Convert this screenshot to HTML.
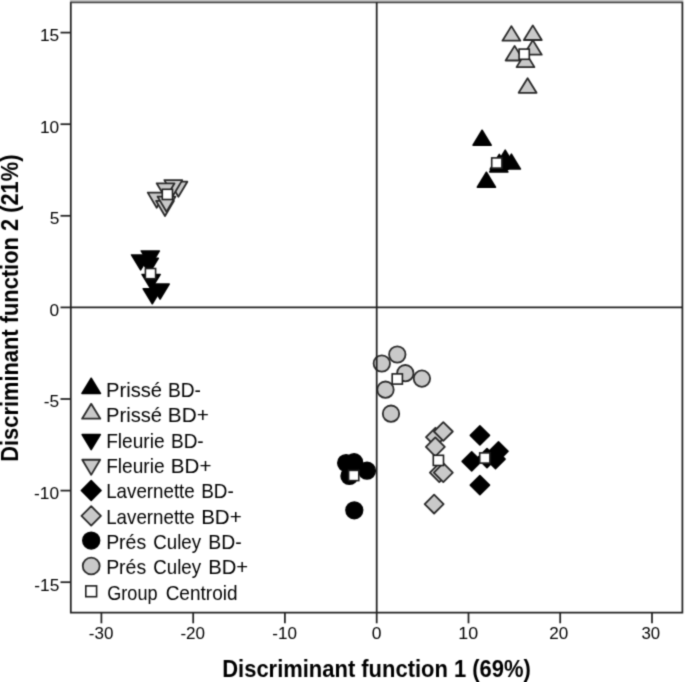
<!DOCTYPE html>
<html><head><meta charset="utf-8"><title>Discriminant functions</title>
<style>
html,body{margin:0;padding:0;background:#fff;}
svg{display:block}
text{font-family:"Liberation Sans",Arial,sans-serif;fill:#000}
.tk{font-size:16.8px}
.lg{font-size:21px}
.ti{font-size:23.6px;font-weight:bold}
.g{fill:#c9c9c9;stroke:#2a2a2a;stroke-width:1.8;stroke-linejoin:round}
.k{fill:#000;stroke:#000;stroke-width:1.5;stroke-linejoin:round}
.c{fill:#fff;stroke:#1e1e1e;stroke-width:1.6}
.ln{stroke:#222;stroke-width:1.75;fill:none}
</style></head><body>
<svg width="685" height="682" viewBox="0 0 685 682">
<defs><filter id="soft" x="0" y="0" width="100%" height="100%" filterUnits="userSpaceOnUse" color-interpolation-filters="sRGB"><feConvolveMatrix order="3" kernelMatrix="1 4 1 4 16 4 1 4 1" edgeMode="duplicate" preserveAlpha="false"/></filter></defs>
<g filter="url(#soft)">
<rect width="685" height="682" fill="#fff"/>

<path class="g" d="M523.85 54.70L541.75 54.70L532.80 40.10Z"/>
<path class="g" d="M505.65 60.50L523.55 60.50L514.60 45.90Z"/>
<path class="g" d="M516.55 67.10L534.45 67.10L525.50 52.50Z"/>
<path class="g" d="M502.45 40.70L520.35 40.70L511.40 26.10Z"/>
<path class="g" d="M523.85 40.00L541.75 40.00L532.80 25.40Z"/>
<path class="g" d="M518.65 92.80L536.55 92.80L527.60 78.20Z"/>
<rect class="c" x="519.1" y="49.1" width="10.2" height="10.2"/>
<path class="k" d="M473.00 145.15L491.20 145.15L482.10 130.25Z"/>
<path class="k" d="M477.30 187.15L495.50 187.15L486.40 172.25Z"/>
<path class="k" d="M496.10 165.05L514.30 165.05L505.20 150.15Z"/>
<path class="k" d="M502.30 169.05L520.50 169.05L511.40 154.15Z"/>
<path class="k" d="M490.20 169.25L508.40 169.25L499.30 154.35Z"/>
<path class="k" d="M489.70 171.95L507.90 171.95L498.80 157.05Z"/>
<rect class="c" x="491.7" y="157.9" width="10.2" height="10.2"/>
<path class="g" d="M169.45 181.70L187.35 181.70L178.40 196.80Z"/>
<path class="g" d="M164.35 180.10L182.25 180.10L173.30 195.20Z"/>
<path class="g" d="M156.65 183.30L174.55 183.30L165.60 198.40Z"/>
<path class="g" d="M147.75 192.60L165.65 192.60L156.70 207.70Z"/>
<path class="g" d="M156.05 200.90L173.95 200.90L165.00 216.00Z"/>
<path class="g" d="M157.55 196.60L175.45 196.60L166.50 211.70Z"/>
<rect class="c" x="162.3" y="189.3" width="10.2" height="10.2"/>
<path class="k" d="M131.50 254.95L149.70 254.95L140.60 269.95Z"/>
<path class="k" d="M141.20 250.95L159.40 250.95L150.30 265.95Z"/>
<path class="k" d="M140.10 258.25L158.30 258.25L149.20 273.25Z"/>
<path class="k" d="M142.00 274.45L160.20 274.45L151.10 289.45Z"/>
<path class="k" d="M151.00 284.05L169.20 284.05L160.10 299.05Z"/>
<path class="k" d="M143.20 288.75L161.40 288.75L152.30 303.75Z"/>
<rect class="c" x="145.4" y="268.5" width="10.2" height="10.2"/>
<path class="g" d="M426.0 437.2L435.4 427.8L444.9 437.2L435.4 446.6Z"/>
<path class="g" d="M433.9 431.5L443.3 422.1L452.8 431.5L443.3 440.9Z"/>
<path class="g" d="M425.9 446.9L435.3 437.4L444.8 446.9L435.3 456.3Z"/>
<path class="g" d="M429.9 472.7L439.3 463.2L448.8 472.7L439.3 482.1Z"/>
<path class="g" d="M433.9 472.7L443.3 463.2L452.8 472.7L443.3 482.1Z"/>
<path class="g" d="M424.7 504.1L434.1 494.6L443.6 504.1L434.1 513.5Z"/>
<rect class="c" x="433.3" y="455.3" width="10.2" height="10.2"/>
<path class="k" d="M470.3 435.4L479.9 425.8L489.5 435.4L479.9 445.0Z"/>
<path class="k" d="M462.1 461.4L471.7 451.8L481.3 461.4L471.7 471.0Z"/>
<path class="k" d="M470.3 485.1L479.9 475.5L489.5 485.1L479.9 494.7Z"/>
<path class="k" d="M488.9 451.3L498.5 441.7L508.1 451.3L498.5 460.9Z"/>
<path class="k" d="M485.9 459.1L495.5 449.5L505.1 459.1L495.5 468.7Z"/>
<path class="k" d="M477.4 458.1L487.0 448.5L496.6 458.1L487.0 467.7Z"/>
<rect class="c" x="479.7" y="452.9" width="10.2" height="10.2"/>
<circle class="g" cx="397.3" cy="354.5" r="8.2"/>
<circle class="g" cx="381.8" cy="363.5" r="8.2"/>
<circle class="g" cx="405.3" cy="373.2" r="8.2"/>
<circle class="g" cx="421.9" cy="378.6" r="8.2"/>
<circle class="g" cx="385.5" cy="389.7" r="8.2"/>
<circle class="g" cx="391.0" cy="413.7" r="8.2"/>
<rect class="c" x="392.2" y="373.9" width="10.2" height="10.2"/>
<circle class="k" cx="346.1" cy="463.0" r="8.35"/>
<circle class="k" cx="354.1" cy="462.1" r="8.35"/>
<circle class="k" cx="367.0" cy="470.7" r="8.35"/>
<circle class="k" cx="349.4" cy="476.0" r="8.35"/>
<circle class="k" cx="354.3" cy="510.3" r="8.35"/>
<rect class="c" x="348.6" y="470.4" width="10.2" height="10.2"/>
<path class="ln" d="M70.8 1.4500000000000002V612.5H682.4V1.4500000000000002"/>
<path class="ln" style="stroke:#c6c6c6;stroke-width:1.6" d="M69.89999999999999 0.8H683.3"/>
<path class="ln" style="stroke:#444" d="M70.8 2.35H682.4"/>
<path class="ln" d="M376.7 2.35V612.5M70.8 307.45H682.4"/>
<path class="ln" d="M101.4 612.5V623.3"/>
<text class="tk" x="88.82" y="639.2" textLength="24.58" lengthAdjust="spacingAndGlyphs">-30</text>
<path class="ln" d="M193.2 612.5V623.3"/>
<text class="tk" x="180.42" y="639.2" textLength="24.69" lengthAdjust="spacingAndGlyphs">-20</text>
<path class="ln" d="M284.9 612.5V623.3"/>
<text class="tk" x="272.32" y="639.2" textLength="24.69" lengthAdjust="spacingAndGlyphs">-10</text>
<path class="ln" d="M376.7 612.5V623.3"/>
<text class="tk" x="371.70" y="639.2" textLength="9.73" lengthAdjust="spacingAndGlyphs">0</text>
<path class="ln" d="M468.5 612.5V623.3"/>
<text class="tk" x="458.37" y="639.2" textLength="19.89" lengthAdjust="spacingAndGlyphs">10</text>
<path class="ln" d="M560.2 612.5V623.3"/>
<text class="tk" x="549.25" y="639.2" textLength="18.98" lengthAdjust="spacingAndGlyphs">20</text>
<path class="ln" d="M652.0 612.5V623.3"/>
<text class="tk" x="641.43" y="639.2" textLength="18.68" lengthAdjust="spacingAndGlyphs">30</text>
<path class="ln" d="M60.5 32.6H70.8"/>
<text class="tk" x="39.98" y="40.9" textLength="19.25" lengthAdjust="spacingAndGlyphs">15</text>
<path class="ln" d="M60.5 124.2H70.8"/>
<text class="tk" x="39.98" y="132.6" textLength="19.25" lengthAdjust="spacingAndGlyphs">10</text>
<path class="ln" d="M60.5 215.8H70.8"/>
<text class="tk" x="49.67" y="224.2" textLength="9.63" lengthAdjust="spacingAndGlyphs">5</text>
<path class="ln" d="M60.5 307.4H70.8"/>
<text class="tk" x="49.50" y="315.8" textLength="9.63" lengthAdjust="spacingAndGlyphs">0</text>
<path class="ln" d="M60.5 399.0H70.8"/>
<text class="tk" x="43.79" y="407.3" textLength="15.39" lengthAdjust="spacingAndGlyphs">-5</text>
<path class="ln" d="M60.5 490.6H70.8"/>
<text class="tk" x="34.10" y="498.9" textLength="25.01" lengthAdjust="spacingAndGlyphs">-10</text>
<path class="ln" d="M60.5 582.2H70.8"/>
<text class="tk" x="34.27" y="590.5" textLength="25.01" lengthAdjust="spacingAndGlyphs">-15</text>
<path class="k" d="M81.92 393.45L100.48 393.45L91.20 378.25Z"/>
<text class="lg" x="106.09" y="396.8" textLength="55.99" lengthAdjust="spacingAndGlyphs">Prissé</text>
<text class="lg" x="167.97" y="396.8" textLength="32.94" lengthAdjust="spacingAndGlyphs">BD-</text>
<path class="g" d="M82.07 418.72L100.33 418.72L91.20 403.83Z"/>
<text class="lg" x="106.09" y="422.2" textLength="55.99" lengthAdjust="spacingAndGlyphs">Prissé</text>
<text class="lg" x="167.84" y="422.2" textLength="40.97" lengthAdjust="spacingAndGlyphs">BD+</text>
<path class="k" d="M82.10 434.59L100.30 434.59L91.20 449.59Z"/>
<text class="lg" x="106.17" y="447.5" textLength="58.42" lengthAdjust="spacingAndGlyphs">Fleurie</text>
<text class="lg" x="170.98" y="447.5" textLength="32.72" lengthAdjust="spacingAndGlyphs">BD-</text>
<path class="g" d="M82.25 459.76L100.15 459.76L91.20 474.86Z"/>
<text class="lg" x="106.17" y="472.9" textLength="58.42" lengthAdjust="spacingAndGlyphs">Fleurie</text>
<text class="lg" x="170.86" y="472.9" textLength="40.54" lengthAdjust="spacingAndGlyphs">BD+</text>
<path class="k" d="M81.3 490.5L91.2 480.6L101.1 490.5L91.2 500.4Z"/>
<text class="lg" x="106.20" y="498.3" textLength="88.55" lengthAdjust="spacingAndGlyphs">Lavernette</text>
<text class="lg" x="201.29" y="498.3" textLength="32.51" lengthAdjust="spacingAndGlyphs">BD-</text>
<path class="g" d="M81.5 515.9L91.2 506.2L100.9 515.9L91.2 525.6Z"/>
<text class="lg" x="106.20" y="523.6" textLength="88.55" lengthAdjust="spacingAndGlyphs">Lavernette</text>
<text class="lg" x="201.16" y="523.6" textLength="40.54" lengthAdjust="spacingAndGlyphs">BD+</text>
<circle class="k" cx="91.2" cy="540.6" r="8.45"/>
<text class="lg" x="106.14" y="549.0" textLength="40.07" lengthAdjust="spacingAndGlyphs">Prés</text>
<text class="lg" x="153.27" y="549.0" textLength="47.76" lengthAdjust="spacingAndGlyphs">Culey</text>
<text class="lg" x="208.25" y="549.0" textLength="33.37" lengthAdjust="spacingAndGlyphs">BD-</text>
<circle class="g" cx="91.2" cy="566.0" r="8.45"/>
<text class="lg" x="106.14" y="574.4" textLength="40.07" lengthAdjust="spacingAndGlyphs">Prés</text>
<text class="lg" x="153.27" y="574.4" textLength="47.76" lengthAdjust="spacingAndGlyphs">Culey</text>
<text class="lg" x="208.18" y="574.4" textLength="40.00" lengthAdjust="spacingAndGlyphs">BD+</text>
<rect class="c" x="85.8" y="585.9" width="10.8" height="10.8"/>
<text class="lg" x="107.30" y="599.8" textLength="50.21" lengthAdjust="spacingAndGlyphs">Group</text>
<text class="lg" x="165.65" y="599.8" textLength="71.88" lengthAdjust="spacingAndGlyphs">Centroid</text>
<text class="ti" x="222.26" y="676.5" textLength="308.58" lengthAdjust="spacingAndGlyphs">Discriminant function 1 (69%)</text>
<text class="ti" transform="translate(17.7 461.73) rotate(-90)" textLength="307.17" lengthAdjust="spacingAndGlyphs">Discriminant function 2 (21%)</text>
</g></svg></body></html>
